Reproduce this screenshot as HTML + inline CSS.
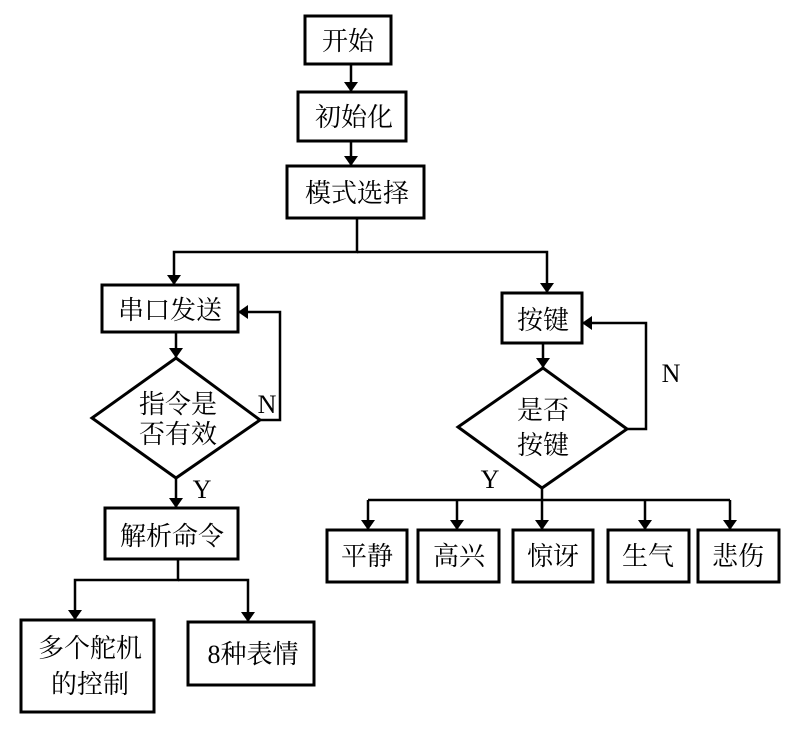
<!DOCTYPE html>
<html><head><meta charset="utf-8"><style>body{margin:0;background:#fff}svg{display:block}text{font-family:"Liberation Serif","Noto Serif CJK SC","Noto Sans CJK SC",serif;font-size:26px;fill:#000}</style></head>
<body>
<svg width="800" height="729" viewBox="0 0 800 729" xmlns="http://www.w3.org/2000/svg">
<defs><marker id="a" markerWidth="10" markerHeight="14" refX="10" refY="7" orient="auto" markerUnits="userSpaceOnUse"><path d="M0,0 L10,7 L0,14 Z" fill="#000"/></marker></defs>
<g fill="none" stroke="#000" stroke-width="3">
<rect x="305" y="16" width="86" height="48"/>
<rect x="298" y="92" width="108" height="49"/>
<rect x="287" y="166" width="137" height="52"/>
<rect x="102" y="285" width="136" height="47"/>
<path d="M176,358 L260,420 L176,478 L92,418 Z"/>
<rect x="105" y="508" width="133" height="51"/>
<rect x="21" y="620" width="133" height="92"/>
<rect x="188" y="622" width="126" height="63"/>
<rect x="502" y="293" width="80" height="50"/>
<path d="M543,368 L627,429 L542,488 L458,427 Z"/>
<rect x="327" y="530" width="80" height="52"/>
<rect x="418" y="530" width="81" height="52"/>
<rect x="513" y="530" width="80" height="52"/>
<rect x="608" y="530" width="81" height="52"/>
<rect x="698" y="530" width="81" height="52"/>
</g>
<g fill="none" stroke="#000" stroke-width="2.5">
<path d="M351,64 V92" marker-end="url(#a)"/>
<path d="M351,141 V166" marker-end="url(#a)"/>
<path d="M357,218 V252 H174 V285" marker-end="url(#a)"/>
<path d="M357,252 H547 V293" marker-end="url(#a)"/>
<path d="M176,332 V358" marker-end="url(#a)"/>
<path d="M260,420 H280 V312 H238" marker-end="url(#a)"/>
<path d="M176,478 V508" marker-end="url(#a)"/>
<path d="M178,559 V580 H75 V620" marker-end="url(#a)"/>
<path d="M178,580 H248 V622" marker-end="url(#a)"/>
<path d="M543,343 V368" marker-end="url(#a)"/>
<path d="M627,429 H646 V323 H582" marker-end="url(#a)"/>
<path d="M542,488 V530" marker-end="url(#a)"/>
<path d="M368,500 H730"/>
<path d="M368,500 V530" marker-end="url(#a)"/>
<path d="M457,500 V530" marker-end="url(#a)"/>
<path d="M645,500 V530" marker-end="url(#a)"/>
<path d="M730,500 V530" marker-end="url(#a)"/>
</g>
<g text-anchor="middle">
<text x="348" y="50">开始</text>
<text x="354" y="126">初始化</text>
<text x="357" y="202">模式选择</text>
<text x="170" y="319">串口发送</text>
<text x="178" y="413">指令是</text>
<text x="178" y="443">否有效</text>
<text x="172" y="545">解析命令</text>
<text x="90" y="657">多个舵机</text>
<text x="90" y="693">的控制</text>
<text x="253" y="663">8种表情</text>
<text x="543" y="329">按键</text>
<text x="543" y="419">是否</text>
<text x="543" y="454">按键</text>
<text x="367" y="565">平静</text>
<text x="459" y="565">高兴</text>
<text x="553" y="565">惊讶</text>
<text x="648" y="565">生气</text>
<text x="738" y="565">悲伤</text>
<text x="267" y="413" font-size="22">N</text>
<text x="202" y="498" font-size="22">Y</text>
<text x="671" y="382" font-size="22">N</text>
<text x="490" y="488" font-size="22">Y</text>
</g>
</svg>
</body></html>
